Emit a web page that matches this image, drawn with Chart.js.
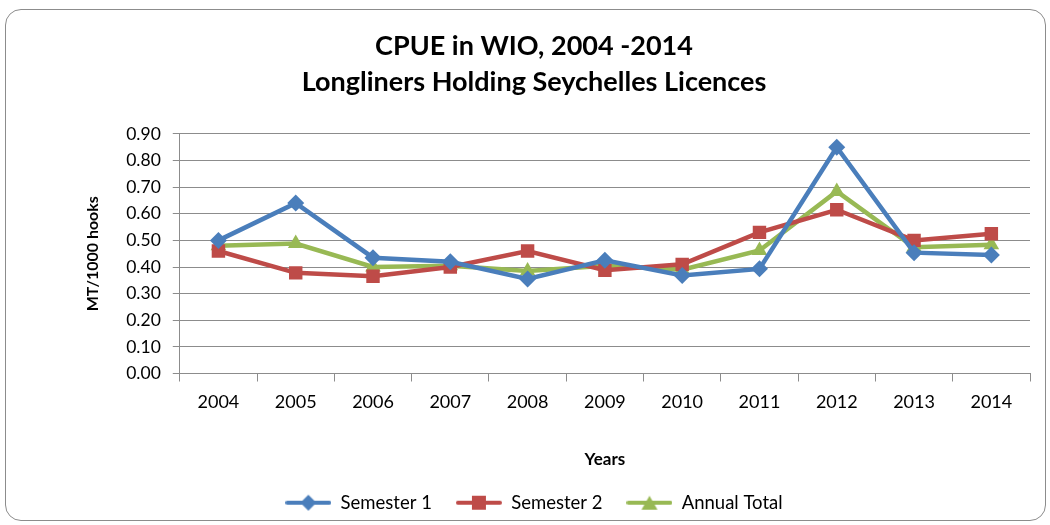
<!DOCTYPE html>
<html>
<head>
<meta charset="utf-8">
<script src="https://cdn.jsdelivr.net/npm/chart.js@4"></script>
<style>
  html, body { margin: 0; padding: 0; background: #fff; }
  #wrap { position: relative; width: 1050px; height: 525px; }
  #frame { position: absolute; left: 5px; top: 9px; width: 1041px; height: 512px;
           border: 1.5px solid #8c8c8c; border-radius: 16px; box-sizing: border-box; }
  canvas { position: absolute; left: 0; top: 0; }
</style>
</head>
<body>
<div id="wrap">
  <div id="frame"></div>
  <canvas id="cpueChart" width="1050" height="525"></canvas>
</div>
<script>
const years = ['2004', '2005', '2006', '2007', '2008', '2009', '2010', '2011', '2012', '2013', '2014'];
const semestre1 = [0.50, 0.64, 0.435, 0.42, 0.355, 0.425, 0.368, 0.393, 0.85, 0.454, 0.445];
const semestre2 = [0.46, 0.378, 0.365, 0.40, 0.46, 0.388, 0.41, 0.53, 0.615, 0.50, 0.525];
const anual = [0.48, 0.488, 0.40, 0.405, 0.385, 0.405, 0.39, 0.462, 0.684, 0.474, 0.484];
const yTicks = [0, 0.1, 0.2, 0.3, 0.4, 0.5, 0.6, 0.7, 0.8, 0.9];

const fuente = "Lato, 'Open Sans', sans-serif";

function iconoLeyenda(color, forma) {
    const c = document.createElement('canvas');
    c.width = 46; c.height = 18;
    const g = c.getContext('2d');
    g.strokeStyle = color;
    g.lineWidth = 4;
    g.lineCap = 'round';
    g.beginPath();
    g.moveTo(2, 9); g.lineTo(44, 9);
    g.stroke();
    g.fillStyle = color;
    g.beginPath();
    if (forma === 'rombo') {
        g.moveTo(23, 1); g.lineTo(31, 9); g.lineTo(23, 17); g.lineTo(15, 9);
    } else if (forma === 'cuadro') {
        g.rect(16, 2, 14, 14);
    } else {
        g.moveTo(23, 2); g.lineTo(31, 16); g.lineTo(15, 16);
    }
    g.closePath();
    g.fill();
    return c;
}

const series = [
    { label: 'Semester 1', data: semestre1, color: '#4A7EBB', estilo: 'rectRot', radio: 8.5, forma: 'rombo' },
    { label: 'Semester 2', data: semestre2, color: '#BE4B48', estilo: 'rect', radio: 9.5, forma: 'cuadro' },
    { label: 'Annual Total', data: anual, color: '#98B954', estilo: 'triangle', radio: 9, forma: 'triangulo' }
];

const ctx = document.getElementById('cpueChart').getContext('2d');
new Chart(ctx, {
    type: 'line',
    data: {
        labels: years,
        datasets: series.map(s => ({
            label: s.label,
            data: s.data,
            borderColor: s.color,
            backgroundColor: s.color,
            borderWidth: 4.5,
            pointStyle: s.estilo,
            pointRadius: s.radio,
            pointBorderWidth: 0,
            tension: 0,
            icono: iconoLeyenda(s.color, s.forma)
        }))
    },
    options: {
        responsive: false,
        animation: false,
        layout: { padding: { left: 38, right: 20, top: 20, bottom: 3 } },
        plugins: {
            title: {
                display: true,
                text: ['CPUE in WIO, 2004 -2014', 'Longliners Holding Seychelles Licences'],
                color: '#000',
                font: { family: fuente, size: 27, weight: 'bold', lineHeight: 1.35 },
                padding: { top: 8, bottom: 33 }
            },
            legend: {
                position: 'bottom',
                labels: {
                    color: '#000',
                    font: { family: fuente, size: 18.5 },
                    usePointStyle: true,
                    pointStyleWidth: 46,
                    padding: 24,
                    generateLabels: chart => chart.data.datasets.map((d, i) => ({
                        text: d.label,
                        pointStyle: d.icono,
                        datasetIndex: i,
                        fontColor: '#000',
                        lineWidth: 0
                    }))
                }
            },
            tooltip: { enabled: false }
        },
        scales: {
            x: {
                offset: true,
                grid: { offset: true, drawOnChartArea: false, color: '#8c8c8c', tickLength: 8, lineWidth: 1 },
                border: { color: '#8c8c8c', width: 1 },
                ticks: { color: '#000', font: { family: fuente, size: 18 }, padding: 10 },
                title: {
                    display: true, text: 'Years', color: '#000',
                    font: { family: fuente, size: 17, weight: 'bold' },
                    padding: { top: 26, bottom: 0 }
                }
            },
            y: {
                min: 0,
                max: 0.9,
                afterBuildTicks: axis => { axis.ticks = yTicks.map(v => ({ value: v })); },
                grid: { color: '#8c8c8c', tickLength: 7, lineWidth: 1 },
                border: { color: '#8c8c8c', width: 1 },
                ticks: {
                    color: '#000', font: { family: fuente, size: 17.5 }, padding: 12,
                    callback: v => Number(v).toFixed(2)
                },
                title: {
                    display: true, text: 'MT/1000 hooks', color: '#000',
                    font: { family: fuente, size: 16, weight: 'bold' },
                    padding: { top: 45, bottom: 12 }
                }
            }
        }
    }
});
</script>
</body>
</html>
